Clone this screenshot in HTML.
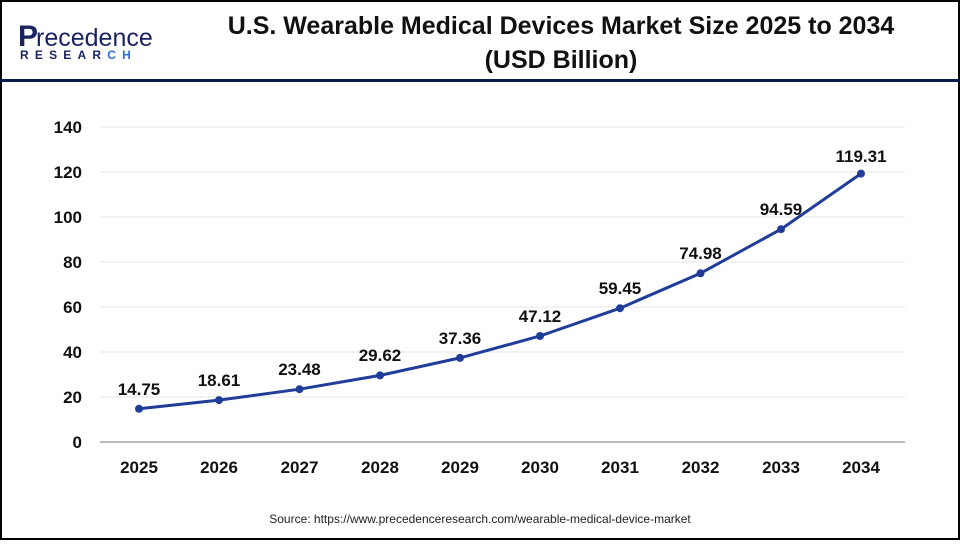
<!DOCTYPE html><html><head><style>body{margin:0}*{font-family:"Liberation Sans",Arial,sans-serif}</style></head><body>
<svg width="960" height="540" xmlns="http://www.w3.org/2000/svg">
<rect x="1" y="1" width="958" height="538" fill="#fff" stroke="#000" stroke-width="2"/>
<line x1="0" y1="80.5" x2="960" y2="80.5" stroke="#0d1b4a" stroke-width="3"/>
<text x="18" y="46" font-size="30" font-weight="bold" fill="#1a2460">P</text>
<text x="36" y="46" font-size="25" fill="#1a2460">recedence</text>
<text x="20" y="59" font-size="12" font-weight="bold" fill="#1a2460" letter-spacing="6.2">RESEAR<tspan fill="#2a6fd6">CH</tspan></text>
<text x="561" y="34" font-size="25" font-weight="bold" text-anchor="middle" fill="#111">U.S. Wearable Medical Devices Market Size 2025 to 2034</text>
<text x="561" y="68" font-size="25" font-weight="bold" text-anchor="middle" fill="#111">(USD Billion)</text>
<g stroke="#e6e6e6" stroke-width="1">
<line x1="100" x2="905" y1="127" y2="127"/><line x1="100" x2="905" y1="172" y2="172"/><line x1="100" x2="905" y1="217" y2="217"/><line x1="100" x2="905" y1="262" y2="262"/><line x1="100" x2="905" y1="307" y2="307"/><line x1="100" x2="905" y1="352" y2="352"/><line x1="100" x2="905" y1="397" y2="397"/></g>
<line x1="100" x2="905" y1="442" y2="442" stroke="#bbb" stroke-width="2"/>
<g font-size="17" font-weight="bold" text-anchor="end" fill="#111">
<text x="82" y="133">140</text><text x="82" y="178">120</text><text x="82" y="223">100</text><text x="82" y="268">80</text><text x="82" y="313">60</text><text x="82" y="358">40</text><text x="82" y="403">20</text><text x="82" y="448">0</text></g>
<g font-size="17" font-weight="bold" text-anchor="middle" fill="#111">
<text x="139" y="473">2025</text><text x="219" y="473">2026</text><text x="299.5" y="473">2027</text><text x="380" y="473">2028</text><text x="460" y="473">2029</text><text x="540" y="473">2030</text><text x="620" y="473">2031</text><text x="700.5" y="473">2032</text><text x="781" y="473">2033</text><text x="861" y="473">2034</text></g>
<polyline fill="none" stroke="#1f3d99" stroke-width="3" points="139,408.8 219,400.1 299.5,389.2 380,375.4 460,357.9 540,336 620,308.2 700.5,273.3 781,229.2 861,173.6"/>
<g fill="#1f3d99"><circle cx="139" cy="408.8" r="4"/><circle cx="219" cy="400.1" r="4"/><circle cx="299.5" cy="389.2" r="4"/><circle cx="380" cy="375.4" r="4"/><circle cx="460" cy="357.9" r="4"/><circle cx="540" cy="336" r="4"/><circle cx="620" cy="308.2" r="4"/><circle cx="700.5" cy="273.3" r="4"/><circle cx="781" cy="229.2" r="4"/><circle cx="861" cy="173.6" r="4"/></g>
<g font-size="17" font-weight="bold" text-anchor="middle" fill="#111">
<text x="139" y="395">14.75</text><text x="219" y="386">18.61</text><text x="299.5" y="375">23.48</text><text x="380" y="361">29.62</text><text x="460" y="344">37.36</text><text x="540" y="322">47.12</text><text x="620" y="294">59.45</text><text x="700.5" y="259">74.98</text><text x="781" y="215">94.59</text><text x="861" y="162">119.31</text></g>
<text x="480" y="523" font-size="12" text-anchor="middle" fill="#222">Source: https://www.precedenceresearch.com/wearable-medical-device-market</text>
</svg></body></html>
